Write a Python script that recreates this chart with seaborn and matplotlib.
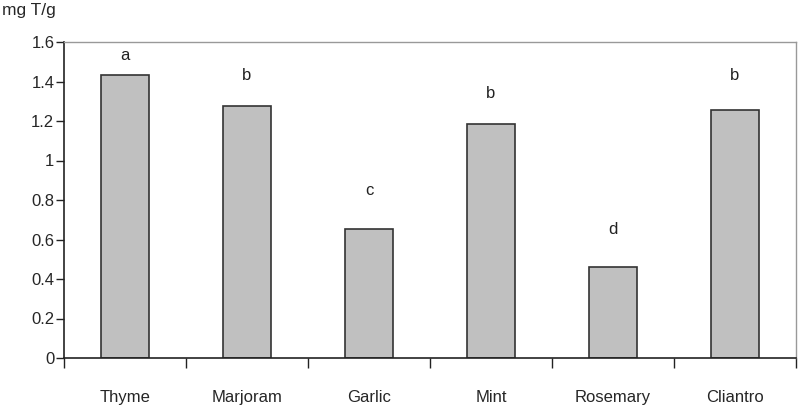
import numpy as np
import pandas as pd
import matplotlib
matplotlib.use("Agg")
import matplotlib.pyplot as plt
import seaborn as sns
from matplotlib import ticker

herbs = ["Thyme", "Marjoram", "Garlic", "Mint", "Rosemary", "Cliantro"]
values = [1.433, 1.276, 0.653, 1.185, 0.461, 1.256]
letters = ["a", "b", "c", "b", "d", "b"]
letter_y = [1.53, 1.43, 0.85, 1.34, 0.65, 1.43]

sns.set_style("white")
plt.rcParams['font.family'] = ['Liberation Sans', 'DejaVu Sans']

df = pd.DataFrame({"herb": herbs, "val": values})

fig = plt.figure(figsize=(8.08, 4.13), dpi=100)
ax = fig.add_axes([64/808, 55/413, 732/808, 316/413])

sns.barplot(data=df, x="herb", y="val", color="#c0c0c0", edgecolor="#333333",
            linewidth=1.2, width=0.4, saturation=1, ax=ax)

for i, (t, y) in enumerate(zip(letters, letter_y)):
    ax.text(i, y, t, ha="center", va="center", fontsize=12, color="#222222")

ax.set_xlim(-0.5, 5.5)
ax.set_ylim(0, 1.6)
ax.set_yticks(np.arange(0, 1.61, 0.2))
ax.yaxis.set_major_formatter(ticker.FuncFormatter(lambda v, p: "%g" % round(v, 1)))
ax.tick_params(axis="y", left=True, direction="out", length=6, width=1, labelsize=12, pad=1, color="#222222")

ax.set_xticks(range(len(herbs)))
ax.set_xticklabels(herbs)
ax.set_xticks(np.arange(-0.5, 5.6, 1), minor=True)
ax.tick_params(axis="x", which="major", length=0, labelsize=12, pad=23)
ax.tick_params(axis="x", which="minor", bottom=True, direction="out", length=7, width=1, color="#222222")

ax.set_xlabel("")
ax.set_ylabel("")

for s in ["left", "bottom"]:
    ax.spines[s].set_color("#222222")
    ax.spines[s].set_linewidth(1.2)
for s in ["top", "right"]:
    ax.spines[s].set_color("#999999")
    ax.spines[s].set_linewidth(1)

fig.text(0.002, 1 - 11/413, "mg T/g", ha="left", va="center", fontsize=12.5)

fig.savefig("out.png", dpi=100)
